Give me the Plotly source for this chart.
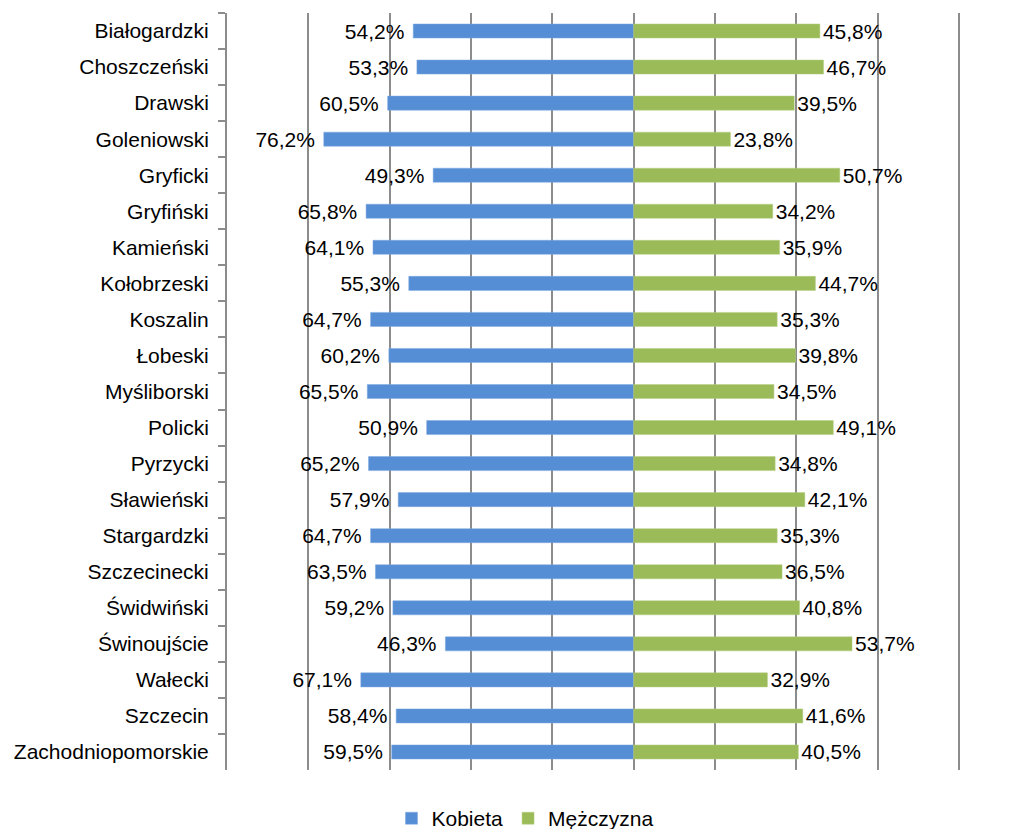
import plotly.graph_objects as go

categories = ["Białogardzki", "Choszczeński", "Drawski", "Goleniowski", "Gryficki",
              "Gryfiński", "Kamieński", "Kołobrzeski", "Koszalin", "Łobeski",
              "Myśliborski", "Policki", "Pyrzycki", "Sławieński", "Stargardzki",
              "Szczecinecki", "Świdwiński", "Świnoujście", "Wałecki", "Szczecin",
              "Zachodniopomorskie"]
kobieta = [54.2, 53.3, 60.5, 76.2, 49.3, 65.8, 64.1, 55.3, 64.7, 60.2, 65.5,
           50.9, 65.2, 57.9, 64.7, 63.5, 59.2, 46.3, 67.1, 58.4, 59.5]
mezczyzna = [45.8, 46.7, 39.5, 23.8, 50.7, 34.2, 35.9, 44.7, 35.3, 39.8, 34.5,
             49.1, 34.8, 42.1, 35.3, 36.5, 40.8, 53.7, 32.9, 41.6, 40.5]
series_names = ["Kobieta", "Mężczyzna"]


def fmt(v):
    return f"{v:.1f}%".replace(".", ",")


FONT = "Liberation Sans, Arial, sans-serif"

fig = go.Figure()
fig.add_trace(go.Bar(
    y=categories, x=[-v for v in kobieta], orientation="h", name=series_names[0],
    marker=dict(color="#558ED5", line=dict(color="#7FA9E0", width=0.5)),
    text=[fmt(v) + "\u00a0" for v in kobieta], textposition="outside",
    constraintext="none",
    textfont=dict(family=FONT, size=21, color="#000000"),
    cliponaxis=False, width=0.39,
))
fig.add_trace(go.Bar(
    y=categories, x=mezczyzna, orientation="h", name=series_names[1],
    marker=dict(color="#9BBB59", line=dict(color="#B5CF82", width=0.5)),
    text=[fmt(v) for v in mezczyzna], textposition="outside",
    constraintext="none",
    textfont=dict(family=FONT, size=21, color="#000000"),
    cliponaxis=False, width=0.39,
))

fig.update_layout(
    width=1030, height=829,
    barmode="overlay",
    paper_bgcolor="white", plot_bgcolor="white",
    margin=dict(l=219, r=77, t=5, b=67, autoexpand=False),
    font=dict(family=FONT, size=21, color="#000000"),
    showlegend=True,
    legend=dict(orientation="h", x=0.406, xanchor="center", y=-0.0912, yanchor="bottom",
                font=dict(family=FONT, size=21, color="#000000"),
                itemwidth=30, tracegroupgap=0, traceorder="normal"),
    uniformtext=dict(mode=False),
)
fig.update_xaxes(
    range=[-100, 80.5], dtick=20, tick0=0, showticklabels=False,
    showgrid=True, gridcolor="#8C8C8C", gridwidth=2,
    zeroline=True, zerolinecolor="#8C8C8C", zerolinewidth=2,
    showline=False, ticks="", automargin=False,
)
fig.update_yaxes(
    autorange="reversed", showgrid=False, zeroline=False,
    showline=True, linecolor="#8C8C8C", linewidth=2,
    ticks="outside", tickson="boundaries", ticklen=7, tickcolor="#8C8C8C", tickwidth=2,
    tickfont=dict(family=FONT, size=21, color="#000000"),
    ticklabelstandoff=12, automargin=False,
)

fig.write_html("out.html")
